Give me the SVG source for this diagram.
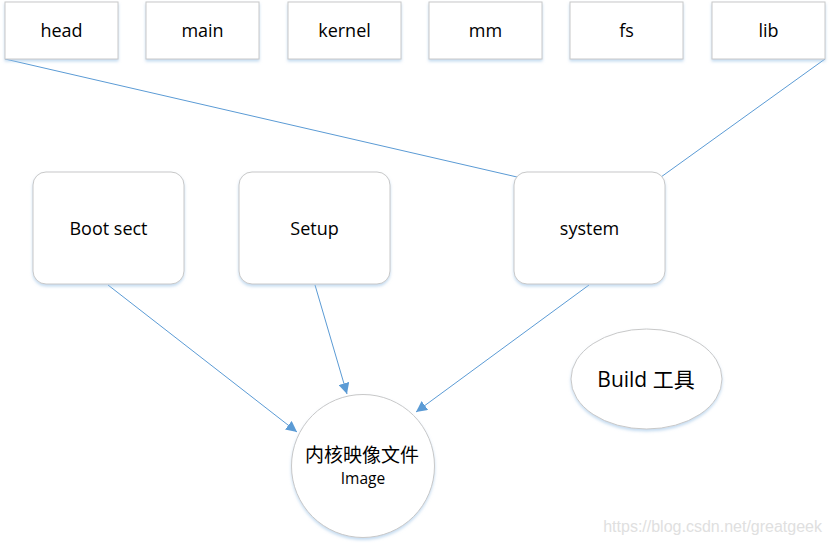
<svg xmlns="http://www.w3.org/2000/svg" width="831" height="545" viewBox="0 0 831 545">
<defs>
<filter id="sh" x="-10%" y="-10%" width="120%" height="130%">
<feGaussianBlur in="SourceAlpha" stdDeviation="1.5"/>
<feOffset dy="2" result="b"/>
<feFlood flood-color="#9dc3e6" flood-opacity="0.6"/>
<feComposite in2="b" operator="in"/>
<feMerge><feMergeNode/><feMergeNode in="SourceGraphic"/></feMerge>
</filter>
<marker id="ah" viewBox="0 0 10 10" refX="10" refY="5" markerWidth="11" markerHeight="11" markerUnits="userSpaceOnUse" orient="auto">
<path d="M0,0 L10,5 L0,10 z" fill="#5b9bd5"/>
</marker>
</defs>
<style>
.n{fill:#fff;stroke:#c8c8c8;stroke-width:1;filter:url(#sh)}
.t{font-family:"Open Sans","Noto Sans","Noto Sans CJK SC",sans-serif;font-size:18px;fill:#000;text-anchor:middle}
.c{stroke:#5b9bd5;stroke-width:1;fill:none}
</style>
<rect width="831" height="545" fill="#fff"/>
<g id="connectors">
<line class="c" x1="5" y1="59" x2="517" y2="177"/>
<line class="c" x1="825" y1="59" x2="661" y2="177"/>
<line class="c" x1="108" y1="285" x2="297" y2="432" marker-end="url(#ah)"/>
<line class="c" x1="315" y1="285" x2="347" y2="394" marker-end="url(#ah)"/>
<line class="c" x1="589" y1="285" x2="416" y2="412" marker-end="url(#ah)"/>
</g>
<g id="head"><rect class="n" x="5" y="2" width="113" height="57"/><text class="t" x="61.5" y="37">head</text></g>
<g id="main"><rect class="n" x="146" y="2" width="113" height="57"/><text class="t" x="202.5" y="37">main</text></g>
<g id="kernel"><rect class="n" x="288" y="2" width="113" height="57"/><text class="t" x="344.5" y="37">kernel</text></g>
<g id="mm"><rect class="n" x="429" y="2" width="113" height="57"/><text class="t" x="485.5" y="37">mm</text></g>
<g id="fs"><rect class="n" x="570" y="2" width="113" height="57"/><text class="t" x="626.5" y="37">fs</text></g>
<g id="lib"><rect class="n" x="712" y="2" width="113" height="57"/><text class="t" x="768.5" y="37">lib</text></g>
<g id="bootsect"><rect class="n" x="33" y="172" width="151" height="112" rx="13"/><text class="t" x="108.5" y="235">Boot sect</text></g>
<g id="setup"><rect class="n" x="239" y="172" width="151" height="112" rx="13"/><text class="t" x="314.5" y="235">Setup</text></g>
<g id="system"><rect class="n" x="514" y="172" width="151" height="112" rx="13"/><text class="t" x="589.5" y="235">system</text></g>
<g id="image"><circle class="n" cx="363" cy="466" r="71.5"/><text class="t" x="362" y="462" style="font-size:19px">内核映像文件</text><text class="t" x="363" y="484" style="font-size:15.5px">Image</text></g>
<g id="build"><ellipse class="n" cx="646.5" cy="379" rx="75.5" ry="50"/><text class="t" x="646" y="387" style="font-size:21px">Build 工具</text></g>
<text x="822" y="532" style="font-family:'Liberation Sans',Arial,sans-serif;font-size:16px;fill:#e0e0e0;text-anchor:end">https://blog.csdn.net/greatgeek</text>
</svg>
